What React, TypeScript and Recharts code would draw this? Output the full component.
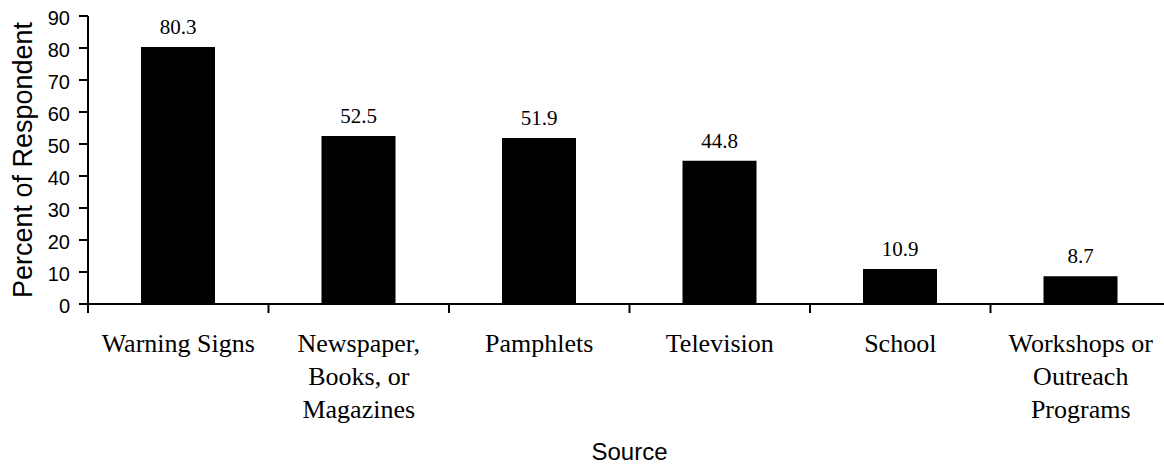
import { BarChart, Bar, XAxis, YAxis, LabelList, Label } from "recharts"

const sources = [
  ["Warning Signs"],
  ["Newspaper,", "Books, or", "Magazines"],
  ["Pamphlets"],
  ["Television"],
  ["School"],
  ["Workshops or", "Outreach", "Programs"],
]
const percents = [80.3, 52.5, 51.9, 44.8, 10.9, 8.7]
const yTicks = [0, 10, 20, 30, 40, 50, 60, 70, 80, 90]

const data = sources.map((lines, i) => ({
  name: lines.join(" "),
  lines,
  value: percents[i],
}))

const SERIF = "'Liberation Serif', 'Times New Roman', serif"
const SANS = "'Liberation Sans', Arial, sans-serif"

function SourceTick(props: any) {
  const { x, y, payload, index, width } = props
  const half = payload?.offset ?? width / (2 * sources.length)
  const lines = sources[index] || [payload.value]
  const last = index === sources.length - 1
  return (
    <g>
      <line x1={x - half} y1={y} x2={x - half} y2={y + 9} stroke="#000" strokeWidth={2} />
      {last && (
        <line x1={x + half} y1={y} x2={x + half} y2={y + 9} stroke="#000" strokeWidth={2} />
      )}
      <text x={x} y={y + 48} textAnchor="middle" fontFamily={SERIF} fontSize={26} fill="#000">
        {lines.map((l: string, i: number) => (
          <tspan key={i} x={x} dy={i === 0 ? 0 : 33}>
            {l}
          </tspan>
        ))}
      </text>
    </g>
  )
}

export default function App() {
  return (
    <div
      style={{
        position: "fixed",
        left: 0,
        top: 0,
        width: 1164,
        height: 468,
        overflow: "hidden",
        background: "#fff",
      }}
    >
      <BarChart
        width={1171}
        height={468}
        data={data}
        margin={{ top: 16, right: 0, left: 0, bottom: 0 }}
      >
        <XAxis
          dataKey="name"
          height={164}
          stroke="#000"
          strokeWidth={2}
          tickLine={false}
          tickSize={0}
          tickMargin={0}
          interval={0}
          tick={<SourceTick />}
        >
          <Label
            value="Source"
            position="insideBottom"
            offset={8}
            fill="#000"
            style={{ fontFamily: SANS, fontSize: 24 }}
          />
        </XAxis>
        <YAxis
          width={88}
          domain={[0, 90]}
          ticks={yTicks}
          interval={0}
          stroke="#000"
          strokeWidth={2}
          tickSize={9}
          tickMargin={9}
          tick={{ fill: "#000", fontFamily: SANS, fontSize: 20, dy: 2 }}
        >
          <Label
            value="Percent of Respondent"
            angle={-90}
            position="insideLeft"
            offset={22}
            fill="#000"
            style={{ fontFamily: SANS, fontSize: 27, textAnchor: "middle" }}
          />
        </YAxis>
        <Bar dataKey="value" fill="#000" barSize={74} isAnimationActive={false}>
          <LabelList
            dataKey="value"
            position="top"
            offset={13}
            fill="#000"
            style={{ fontFamily: SERIF, fontSize: 21 }}
          />
        </Bar>
      </BarChart>
    </div>
  )
}
